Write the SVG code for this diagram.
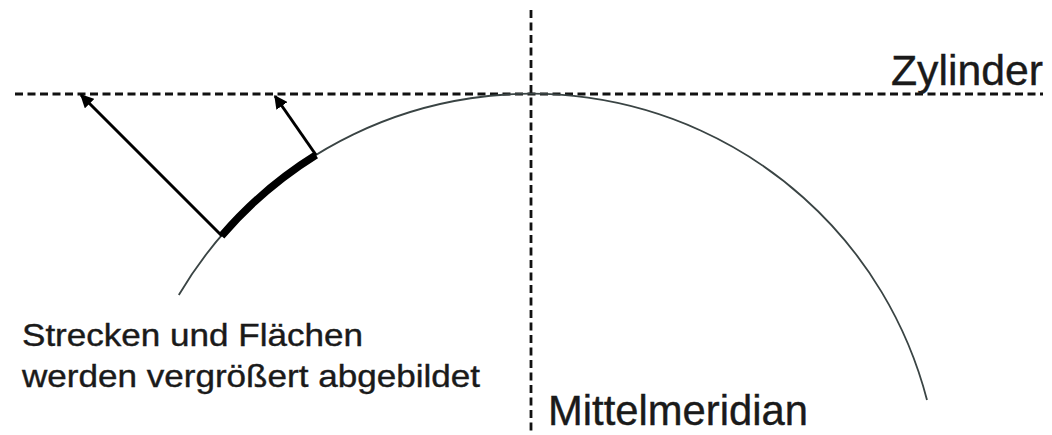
<svg xmlns="http://www.w3.org/2000/svg" width="1052" height="435" viewBox="0 0 1052 435">
<style>
.dash{stroke:#111;stroke-width:2.8;stroke-dasharray:8 4.5;fill:none}
.arc{stroke:#3a4444;stroke-width:1.8;fill:none}
.thick{stroke:#000;stroke-width:7.5;fill:none}
.arrow{stroke:#000;stroke-width:3;fill:none;marker-end:url(#ah)}
.t{font-family:"Liberation Sans",Arial,sans-serif;fill:#1a1a1a;stroke:#1a1a1a;stroke-width:0.4}
</style>
<defs>
<marker id="ah" viewBox="0 0 10 10" refX="9" refY="5" markerWidth="4.5" markerHeight="4.5" orient="auto" markerUnits="strokeWidth">
<path d="M0,0 L10,5 L0,10 z" fill="#000"/>
</marker>
</defs>
<rect width="1052" height="435" fill="#fff"/>
<g id="axes">
<line class="dash" x1="15" y1="94" x2="1043" y2="94"/>
<line class="dash" x1="531" y1="10" x2="531" y2="435"/>
</g>
<g id="globe">
<path class="arc" d="M178.8,295 A409,409 0 0 1 927,400"/>
<path class="thick" d="M221.5,236 A409,409 0 0 1 316,155"/>
</g>
<g id="connectors">
<line class="arrow" x1="222" y1="236" x2="81" y2="95"/>
<line class="arrow" x1="316" y1="155" x2="275" y2="96"/>
</g>
<g id="label-zylinder">
<text class="t" x="891" y="85" font-size="42" textLength="152" lengthAdjust="spacingAndGlyphs">Zylinder</text>
</g>
<g id="label-mittelmeridian">
<text class="t" x="548" y="425" font-size="42" textLength="260" lengthAdjust="spacingAndGlyphs">Mittelmeridian</text>
</g>
<g id="label-note">
<text class="t" x="22" y="346" font-size="32" textLength="341" lengthAdjust="spacingAndGlyphs">Strecken und Flächen</text>
<text class="t" x="22" y="387" font-size="32" textLength="458" lengthAdjust="spacingAndGlyphs">werden vergrößert abgebildet</text>
</g>
</svg>
